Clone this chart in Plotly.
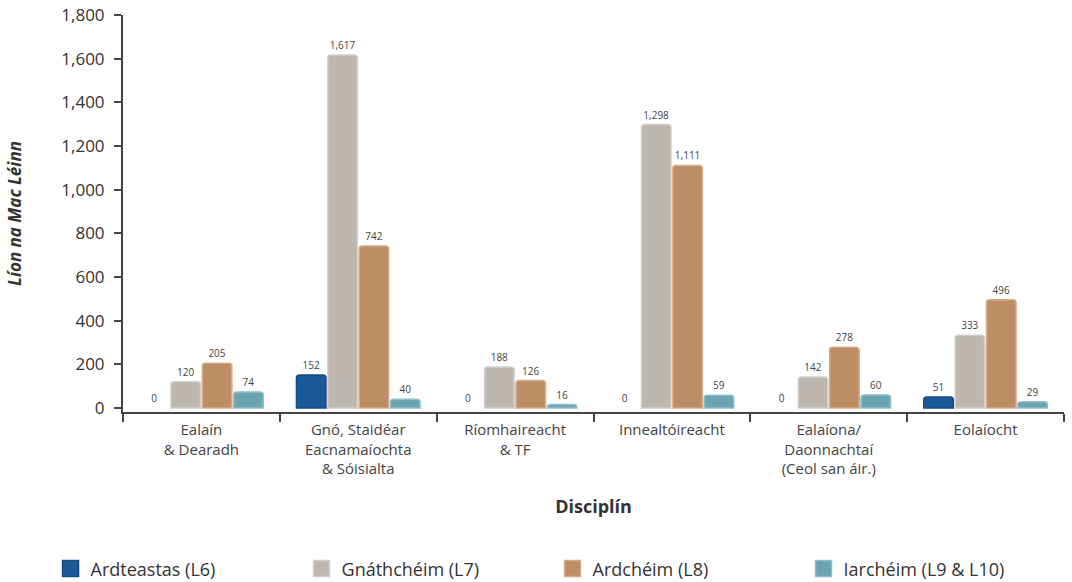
import plotly.graph_objects as go

categories = [
    "Ealaín<br>& Dearadh",
    "Gnó, Staidéar<br>Eacnamaíochta<br>& Sóisialta",
    "Ríomhaireacht<br>& TF",
    "Innealtóireacht",
    "Ealaíona/<br>Daonnachtaí<br>(Ceol san áir.)",
    "Eolaíocht",
]
series_names = ["Ardteastas (L6)", "Gnáthchéim (L7)", "Ardchéim (L8)", "Iarchéim (L9 & L10)"]
l6 = [0, 152, 0, 0, 0, 51]
l7 = [120, 1617, 188, 1298, 142, 333]
l8 = [205, 742, 126, 1111, 278, 496]
l9 = [74, 40, 16, 59, 60, 29]
y_ticks = [0, 200, 400, 600, 800, 1000, 1200, 1400, 1600, 1800]

colors = ["#1b5998", "#bdb7b0", "#bd8e66", "#6ba5b1"]
line_colors = ["#164c82", "#d3cec8", "#d6ac88", "#8fbec8"]

font_family = "Open Sans, Noto Sans, sans-serif"

fig = go.Figure()
for name, vals, c, lc in zip(series_names, [l6, l7, l8, l9], colors, line_colors):
    fig.add_trace(go.Bar(
        x=categories, y=vals, name=name, legendgroup=name, showlegend=False,
        marker=dict(color=c, line=dict(color=lc, width=[0 if v == 0 else 1.5 for v in vals]),
                    cornerradius=3),
        text=[f"{v:,}" for v in vals], textposition="outside",
        textfont=dict(size=10, color="#444444", family=font_family),
        cliponaxis=False,
    ))
    fig.add_trace(go.Scatter(
        x=[None], y=[None], mode="markers", name=name, legendgroup=name,
        marker=dict(symbol="square", size=16, color=c, line=dict(color=lc, width=1.5)),
    ))

fig.update_layout(
    width=1072, height=582,
    margin=dict(l=123, r=8, t=15, b=170, autoexpand=False),
    paper_bgcolor="white", plot_bgcolor="white",
    barmode="group", bargap=0.2, bargroupgap=0.06,
    font=dict(family=font_family, color="#333333"),
    showlegend=True,
    legend=dict(
        orientation="h", x=-0.077, y=-0.395, xanchor="left", yanchor="middle",
        entrywidth=206, entrywidthmode="pixels",
        font=dict(size=18, color="#333333"), itemwidth=30,
        traceorder="normal",
    ),
    xaxis=dict(
        showline=True, linecolor="#444444", linewidth=2,
        ticks="outside", tickson="boundaries", ticklen=8, tickwidth=2, tickcolor="#444444",
        tickfont=dict(size=15, color="#444444"), ticklabelstandoff=3,
        automargin=False,
        title=dict(text="<b>Disciplín</b>", font=dict(size=18, color="#333333"), standoff=23),
    ),
    yaxis=dict(
        range=[-18, 1800], tickvals=y_ticks, tickformat=",",
        showline=True, linecolor="#444444", linewidth=2,
        ticks="outside", ticklen=7, tickwidth=2, tickcolor="#444444",
        showgrid=False, zeroline=False, automargin=False,
        tickfont=dict(size=17, color="#333333"), ticklabelstandoff=6,
        title=dict(text="<b><i>Líon na Mac Léinn</i></b>", font=dict(size=17, color="#333333"), standoff=35),
    ),
)

fig.write_html("out.html", config={"displayModeBar": False},
               post_script="document.body.style.margin='0px';")
